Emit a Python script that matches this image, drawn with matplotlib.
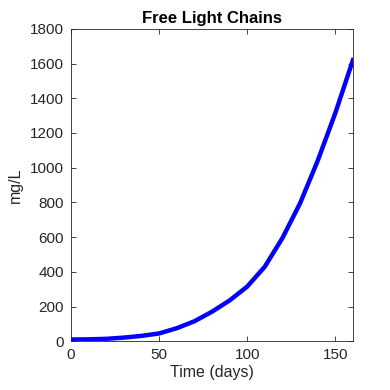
import matplotlib
matplotlib.use("Agg")
import matplotlib.pyplot as plt

days = [0, 10, 20, 30, 40, 50, 60, 70, 80, 90, 100, 110, 120, 130, 140, 150, 160]
flc = [10, 11, 14, 21, 31, 45, 75, 115, 170, 235, 315, 430, 595, 795, 1040, 1315, 1620]

x_ticks = [0, 50, 100, 150]
y_ticks = [0, 200, 400, 600, 800, 1000, 1200, 1400, 1600, 1800]

plt.rcParams['font.family'] = ['Liberation Sans', 'DejaVu Sans']

fig = plt.figure(figsize=(3.9, 3.9), dpi=100)
ax = fig.add_axes([0.182, 0.125, 0.723, 0.801])
ax.plot(days, flc, color='#0000ff', linewidth=3.2, solid_joinstyle='round')
ax.set_xlim(0, 160)
ax.set_ylim(0, 1800)
ax.set_xticks(x_ticks)
ax.set_yticks(y_ticks)
ax.tick_params(direction='in', length=3.5, width=0.6, colors='#262626',
               labelsize=11, top=True, right=True, pad=5)
for s in ax.spines.values():
    s.set_color('#262626')
    s.set_linewidth(0.6)
ax.set_title('Free Light Chains', fontsize=12, fontweight='bold', color='black', pad=4)
ax.set_xlabel('Time (days)', fontsize=11.5, color='#262626', labelpad=2)
ax.set_ylabel('mg/L', fontsize=11.5, color='#262626', labelpad=5)
fig.savefig('out.png', dpi=100, facecolor='white')
